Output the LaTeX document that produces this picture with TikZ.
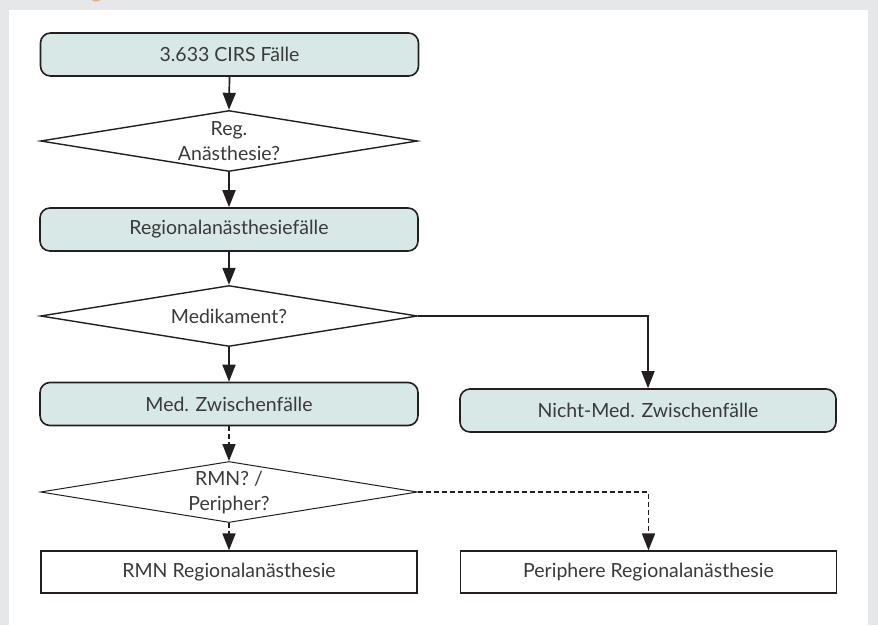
\documentclass[tikz,border=0pt]{standalone}
\usepackage{fontspec}
\setmainfont{Lato}
\usetikzlibrary{shapes.geometric,arrows.meta}
\definecolor{panel}{HTML}{E6E7E8}
\definecolor{boxfill}{HTML}{D8E8E6}
\definecolor{ink}{HTML}{231F20}
\definecolor{txt}{HTML}{3A3A3A}
\definecolor{accent}{HTML}{F4A77A}
\begin{document}
\begin{tikzpicture}[x=1pt,y=-1pt]
\tikzset{
  lbl/.style={text=txt, font=\fontsize{19.5}{25}\selectfont},
  proc/.style={lbl, draw=ink, line width=1.6pt, fill=boxfill, rounded corners=10pt,
    minimum width=378pt, minimum height=43pt, inner sep=0pt},
  decis/.style={lbl, diamond, draw=ink, line width=1.4pt, fill=white, aspect=6.18,
    minimum width=377pt, minimum height=61pt, inner sep=0pt, align=center},
  outbox/.style={lbl, draw=ink, line width=1.2pt, fill=white,
    minimum width=376pt, minimum height=42pt, inner sep=0pt},
  flow/.style={draw=ink, line width=1.7pt, -{Triangle[length=17pt,width=13pt]}},
  dflow/.style={flow, dash pattern=on 5pt off 3pt}
}
\useasboundingbox (0,0) rectangle (878,625);
\fill[panel] (0,0) rectangle (878,625);
\fill[white] (9,10) rectangle (868,625);
\fill[accent] (96,0) ellipse [x radius=4pt, y radius=1.5pt];

\node[proc] (b1) at (229.5,54.5) {3.633 CIRS Fälle};
\node[decis] (d1) at (229,141) {Reg.\\Anästhesie?};
\node[proc] (b2) at (229,229.5) {Regionalanästhesiefälle};
\node[decis] (d2) at (229,316) {Medikament?};
\node[proc] (b3) at (229,404) {Med. Zwischenfälle};
\node[proc, minimum width=376pt] (b4) at (648,410.5) {Nicht-Med. Zwischenfälle};
\node[decis, line width=1pt] (d3) at (229,492) {RMN? /\\Peripher?};
\node[outbox] (b5) at (229,572) {RMN Regionalanästhesie};
\node[outbox] (b6) at (648.5,572) {Periphere Regionalanästhesie};

\draw[flow] (b1.south) -- (d1.north);
\draw[flow] (d1.south) -- (b2.north);
\draw[flow] (b2.south) -- (d2.north);
\draw[flow] (d2.south) -- (b3.north);
\draw[flow] (d2.east) -| (b4.north);
\draw[dflow] (b3.south) -- (d3.north);
\draw[dflow] (d3.south) -- (b5.north);
\draw[dflow] (d3.east) -| (b6.north);
\end{tikzpicture}
\end{document}
